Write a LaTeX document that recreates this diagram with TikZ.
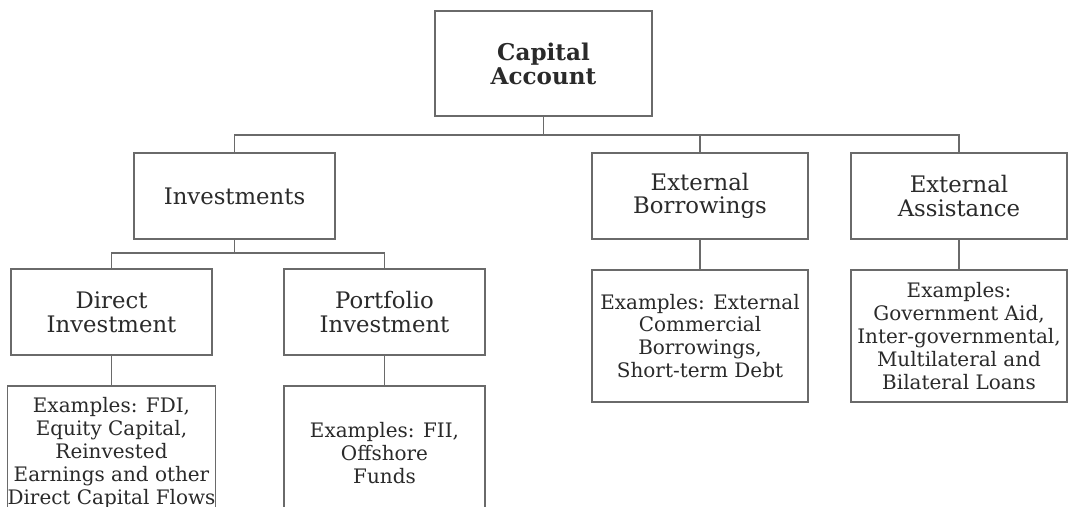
\documentclass[tikz,border=0pt]{standalone}
\usepackage{fontspec}
\setmainfont{DejaVu Serif}
\usepackage{xcolor}
\usetikzlibrary{positioning, calc}
\definecolor{cline}{HTML}{6A6A6A}
\definecolor{ctext}{HTML}{2A2A2A}

\tikzset{
  cbox/.style={draw=cline, line width=0.8pt, inner sep=0pt, align=center,
    text=ctext, font=\fontsize{16.2}{16.8}\selectfont},
  headbox/.style={cbox, minimum width=5.025cm, minimum height=2.15cm},
  widebox/.style={cbox, minimum width=5.4cm, minimum height=2.15cm},
  exbox/.style={font=\fontsize{14.2}{16.3}\selectfont},
  tree/.style={draw=cline, line width=0.8pt}
}

\begin{document}
\begin{tikzpicture}[x=1cm, y=1cm]

  %% Frame
  \useasboundingbox[fill=white] (0,0) rectangle (26.925,-12.675);

  %% Top box
  \node[cbox, minimum width=5.425cm, minimum height=2.625cm,
    font=\fontsize{16.4}{17.2}\selectfont\bfseries] (cap) at (13.5875,-1.5875)
    {Capital\\Account};

  %% Second row
  \node[headbox] (inv)  at (5.8625,-4.9) {Investments};
  \node[widebox] (ebor) at (17.5,-4.9)   {External\\Borrowings};
  \node[widebox] (eass) at (23.975,-4.9) {External\\Assistance};

  %% Third row: kinds of investment
  \node[headbox] (dinv) at (2.7875,-7.8) {Direct\\Investment};
  \node[headbox] (pinv) at (9.6125,-7.8) {Portfolio\\Investment};

  %% Example boxes
  \node[widebox, exbox, minimum height=3.3cm] (ebex) at (17.5,-8.4)
    {Examples: External\\Commercial\\Borrowings,\\Short-term Debt};
  \node[widebox, exbox, minimum height=3.3cm] (eaex) at (23.975,-8.4)
    {Examples:\\Government Aid,\\Inter-governmental,\\Multilateral and\\Bilateral Loans};
  \node[headbox, exbox, minimum height=3.35cm] (diex) at (2.7875,-11.325)
    {Examples: FDI,\\Equity Capital,\\Reinvested\\Earnings and other\\Direct Capital Flows};
  \node[headbox, exbox, minimum height=3.35cm] (piex) at (9.6125,-11.325)
    {Examples: FII,\\Offshore\\Funds};

  %% Bus lines
  \coordinate (busa) at (0,-3.375);
  \coordinate (busb) at (0,-6.325);

  %% Connectors
  \draw[tree] (cap.south) -- (cap.south |- busa);
  \draw[tree] (inv.north) |- (eass.north |- busa) -- (eass.north);
  \draw[tree] (ebor.north) -- (ebor.north |- busa);
  \draw[tree] (inv.south) -- (inv.south |- busb);
  \draw[tree] (dinv.north) |- (pinv.north |- busb) -- (pinv.north);
  \foreach \a/\b in {dinv/diex, pinv/piex, ebor/ebex, eass/eaex}
    \draw[tree] (\a.south) -- (\b.north);

\end{tikzpicture}
\end{document}
